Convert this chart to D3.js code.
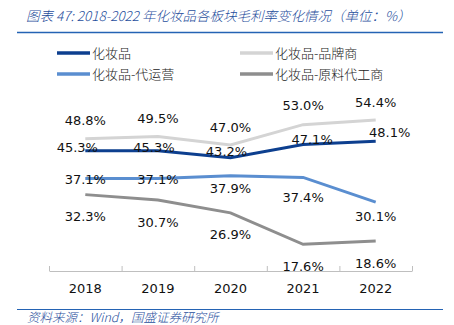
<!DOCTYPE html>
<html>
<head>
<meta charset="utf-8">
<script src="https://cdn.jsdelivr.net/npm/d3@7"></script>
<style>
  body { margin: 0; background: #fff; }
  text { font-family: "DejaVu Sans", Verdana, sans-serif; }
</style>
</head>
<body>
<script>
var years = ["2018", "2019", "2020", "2021", "2022"];
var seriesNames = ["化妆品", "化妆品-品牌商", "化妆品-代运营", "化妆品-原料代工商"];
var cosmetics = [45.3, 45.3, 43.2, 47.1, 48.1];
var brand = [48.8, 49.5, 47.0, 53.0, 54.4];
var agency = [37.1, 37.1, 37.9, 37.4, 30.1];
var oem = [32.3, 30.7, 26.9, 17.6, 18.6];

var colors = ["#0d3f8f", "#d4d4d4", "#5a8ed0", "#8e8e8e"];
// label offsets relative to each point [dx, dy]
var labelOffsets = [
  [[-8, -3], [-4, -3], [-4, -6], [9, -5], [14, -9]],
  [[0, -19], [0, -18], [0, -18], [0, -19], [0, -18]],
  [[0, 1], [0, 1], [0, 13], [0, 20], [0, 14]],
  [[0, 22], [0, 22], [0, 21], [0, 22], [0, 22]]
];

var series = [cosmetics, brand, agency, oem];

var svg = d3.select("body").append("svg")
  .attr("width", 454)
  .attr("height", 325);

// title
svg.append("text")
  .attr("x", 26)
  .attr("y", 21)
  .attr("fill", "#1f4e9c")
  .attr("font-style", "italic")
  .attr("font-size", 13.5)
  .attr("font-weight", 300)
  .style("font-family", "'Noto Sans CJK SC', 'DejaVu Sans', sans-serif")
  .text("图表 47:  2018-2022 年化妆品各板块毛利率变化情况（单位：%）");

svg.append("line")
  .attr("x1", 17).attr("x2", 443)
  .attr("y1", 32.5).attr("y2", 32.5)
  .attr("stroke", "#2463b4")
  .attr("stroke-width", 1.5);

// legend
var legendPos = [[57, 53], [240, 53], [57, 74], [240, 74]];
var legend = svg.append("g");
seriesNames.forEach(function (name, i) {
  var p = legendPos[i];
  legend.append("line")
    .attr("x1", p[0]).attr("x2", p[0] + 33)
    .attr("y1", p[1]).attr("y2", p[1])
    .attr("stroke", colors[i])
    .attr("stroke-width", 3.5);
  legend.append("text")
    .attr("x", p[0] + 35)
    .attr("y", p[1] + 5)
    .attr("font-size", 13)
    .attr("font-weight", 300)
    .attr("fill", "#222")
    .style("font-family", "'Noto Sans CJK SC', sans-serif")
    .text(name);
});

var x = d3.scaleBand()
  .domain(years)
  .range([49, 412]);

var y = d3.scaleLinear()
  .domain([10, 60])
  .range([270, 101]);

// x axis
var axis = svg.append("g")
  .attr("transform", "translate(0,271)")
  .call(d3.axisBottom(x).tickSize(0).tickPadding(13));
axis.select(".domain").attr("stroke", "#bfbfbf");
axis.selectAll("text")
  .attr("font-size", 13)
  .attr("fill", "#111")
  .style("font-family", "'DejaVu Sans', sans-serif");

var tickXs = years.map(function (d) { return x(d); }).concat([x.range()[1]]);
axis.selectAll(".sep")
  .data(tickXs)
  .enter().append("line")
  .attr("class", "sep")
  .attr("x1", function (d) { return d + 0.5; })
  .attr("x2", function (d) { return d + 0.5; })
  .attr("y1", -5).attr("y2", 0)
  .attr("stroke", "#bfbfbf");

var line = d3.line()
  .x(function (d, i) { return x(years[i]) + x.bandwidth() / 2; })
  .y(function (d) { return y(d); });

// draw order: oem, agency, brand, cosmetics on top
[3, 2, 1, 0].forEach(function (si) {
  svg.append("path")
    .datum(series[si])
    .attr("fill", "none")
    .attr("stroke", colors[si])
    .attr("stroke-width", 3)
    .attr("d", line);
});

series.forEach(function (vals, si) {
  svg.append("g").selectAll("text")
    .data(vals)
    .enter().append("text")
    .attr("x", function (d, i) { return x(years[i]) + x.bandwidth() / 2 + labelOffsets[si][i][0]; })
    .attr("y", function (d, i) { return y(d) + labelOffsets[si][i][1]; })
    .attr("dy", "0.36em")
    .attr("text-anchor", "middle")
    .attr("font-size", 13)
    .attr("fill", "#111")
    .text(function (d) { return d.toFixed(1) + "%"; });
});

// source
svg.append("line")
  .attr("x1", 17).attr("x2", 443)
  .attr("y1", 309.5).attr("y2", 309.5)
  .attr("stroke", "#2463b4")
  .attr("stroke-width", 1);

svg.append("text")
  .attr("x", 27)
  .attr("y", 322)
  .attr("fill", "#1f4e9c")
  .attr("font-style", "italic")
  .attr("font-size", 12.5)
  .attr("font-weight", 300)
  .style("font-family", "'Noto Sans CJK SC', 'DejaVu Sans', sans-serif")
  .text("资料来源：Wind，国盛证券研究所");
</script>
</body>
</html>
